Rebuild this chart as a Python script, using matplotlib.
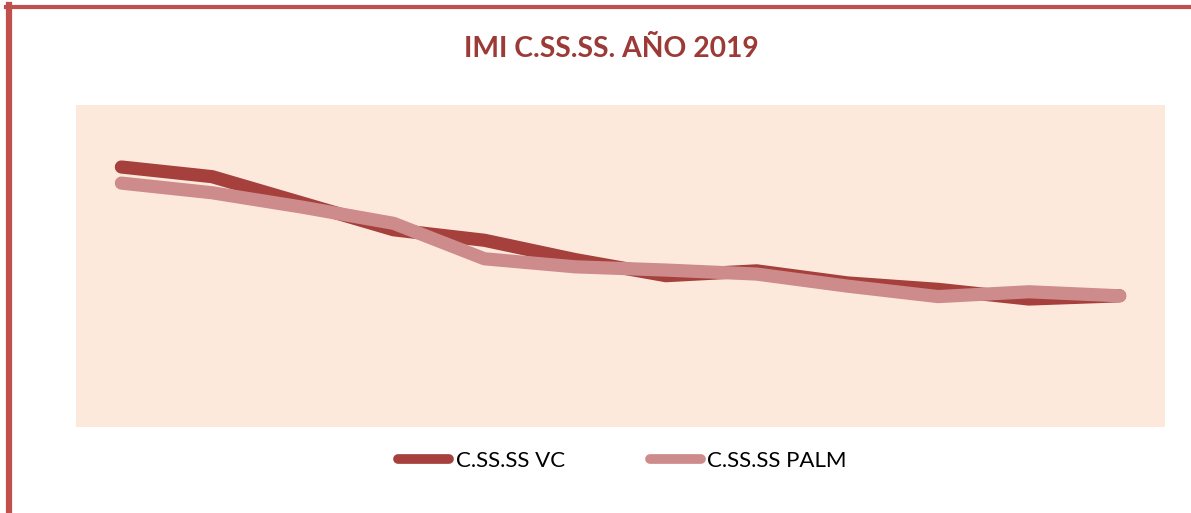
import matplotlib.pyplot as plt
from matplotlib.lines import Line2D
import numpy as np

months = ["ENE", "FEB", "MAR", "ABR", "MAY", "JUN", "JUL", "AGO", "SEP", "OCT", "NOV", "DIC"]
vc = [32.3, 31.1, 27.8, 24.5, 23.2, 20.8, 18.8, 19.4, 17.9, 17.1, 15.9, 16.3]
palm = [30.3, 29.1, 27.3, 25.3, 20.9, 19.9, 19.5, 19.0, 17.5, 16.2, 16.8, 16.3]

fig = plt.figure(figsize=(11.91, 5.13), dpi=100)
ax = fig.add_axes([0.0638, 0.1676, 0.9144, 0.6277])
ax.set_facecolor("#FDE9DB")

x = np.arange(len(months))
ax.plot(x, vc, color="#A5403D", lw=9.5, solid_capstyle="round", solid_joinstyle="round", label="C.SS.SS VC")
ax.plot(x, palm, color="#CE8B8B", lw=9.5, solid_capstyle="round", solid_joinstyle="round", label="C.SS.SS PALM")
ax.set_xlim(-0.5, 11.5)
ax.set_ylim(0, 40)
ax.set_xticks([])
ax.set_yticks([])
for s in ax.spines.values():
    s.set_visible(False)

fig.text(0.513, 0.905, "IMI C.SS.SS. AÑO 2019", ha="center", va="center",
         fontsize=20.3, fontweight="bold", color="#9B3A36", family="Lato")

leg = fig.legend(loc="center", bbox_to_anchor=(0.5227, 0.1013), ncol=2, frameon=False,
                 handlelength=2.3, handletextpad=0.3, columnspacing=3.8,
                 prop={"family": "Lato", "size": 16})
for h in leg.legend_handles:
    h.set_linewidth(7)

# border of the chart area
fig.add_artist(Line2D([6 / 1191, 1], [1 - 7 / 513, 1 - 7 / 513], color="#C0504D", lw=3, transform=fig.transFigure))
fig.add_artist(Line2D([9 / 1191, 9 / 1191], [0, 1 - 5 / 513], color="#C0504D", lw=4.5, transform=fig.transFigure))

fig.savefig("out.png", dpi=100)
